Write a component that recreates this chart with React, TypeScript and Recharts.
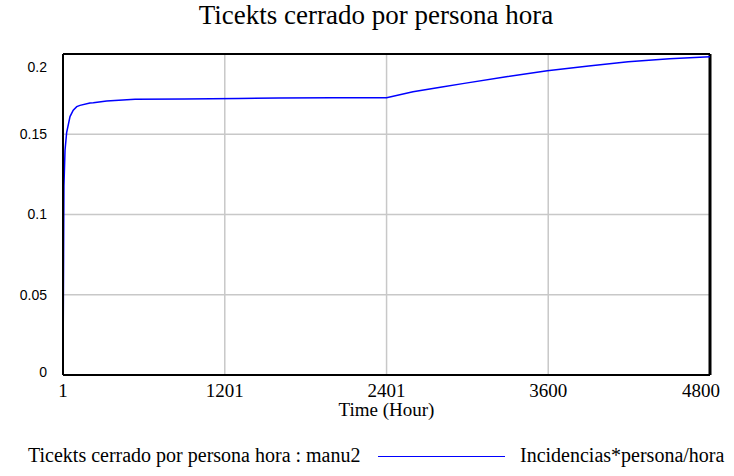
import {
    LineChart,
    Line,
    XAxis,
    YAxis,
    CartesianGrid,
    ReferenceLine,
    Legend,
} from "recharts";

const TITLE = "Ticekts cerrado por persona hora";
const SERIES_NAME = "Ticekts cerrado por persona hora : manu2";
const UNITS = "Incidencias*persona/hora";

const TIME = [
    1, 8, 16, 28, 53, 77, 103, 127, 201, 226, 325, 535, 900, 1300, 1600, 2000,
    2401, 2597, 2800, 2977, 3300, 3593, 3900, 4193, 4500, 4800,
];
const VALUES = [
    0, 0.118, 0.14, 0.151, 0.161, 0.165, 0.1672, 0.168, 0.1695, 0.1697, 0.1707,
    0.1718, 0.172, 0.1722, 0.1726, 0.1727, 0.1728, 0.1765, 0.1793, 0.1817, 0.186,
    0.1896, 0.1925, 0.1952, 0.197, 0.1983,
];

const X_TICKS = [1, 1201, 2401, 3600, 4800];
const Y_TICKS = [0, 0.05, 0.1, 0.15, 0.2];

const data = TIME.map((t, i) => ({ t, v: VALUES[i] }));

const SERIF = "Liberation Serif";
const SANS = "Liberation Sans";

const XTick = (props: any) => {
    const { x, y, payload } = props;
    const last = payload.value === 4800;
    return (
        <text
            x={last ? x + 10 : x}
            y={y}
            dy="0.71em"
            textAnchor={last ? "end" : "middle"}
            fontFamily={SERIF}
            fontSize={19}
            fill="#000"
        >
            {payload.value}
        </text>
    );
};

const YTick = (props: any) => {
    const { x, y, payload } = props;
    let shift = 0;
    if (payload.value === 0.2) shift = 13;
    if (payload.value === 0) shift = -3;
    return (
        <text
            x={x}
            y={y + shift}
            dy="0.355em"
            textAnchor="end"
            fontFamily={SANS}
            fontSize={14}
            fill="#000"
        >
            {payload.value}
        </text>
    );
};

const LegendContent = () => (
    <div
        style={{
            position: "relative",
            height: 24,
            fontFamily: SERIF,
            fontSize: 20,
            color: "#000",
        }}
    >
        <span style={{ position: "absolute", left: 28, top: 0, whiteSpace: "nowrap" }}>
            {SERIES_NAME}
        </span>
        <span
            style={{
                position: "absolute",
                left: 378,
                top: 12,
                width: 127,
                height: 0,
                borderTop: "1.5px solid #0000ff",
            }}
        />
        <span style={{ position: "absolute", left: 520, top: 0, whiteSpace: "nowrap" }}>
            {UNITS}
        </span>
    </div>
);

export default function App() {
    return (
        <div
            style={{
                position: "absolute",
                left: 0,
                top: 0,
                width: 734,
                height: 476,
                background: "#fff",
            }}
        >
            <div
                style={{
                    position: "absolute",
                    left: 0,
                    width: 752,
                    top: 0,
                    textAlign: "center",
                    fontFamily: SERIF,
                    fontSize: 27,
                    color: "#000",
                    whiteSpace: "nowrap",
                }}
            >
                {TITLE}
            </div>
            <LineChart
                width={734}
                height={476}
                data={data}
                margin={{ top: 54, right: 24, left: 0, bottom: 8 }}
            >
                <CartesianGrid stroke="#c8c8c8" strokeWidth={1.5} />
                <XAxis
                    dataKey="t"
                    type="number"
                    domain={[1, 4800]}
                    ticks={X_TICKS}
                    allowDataOverflow
                    height={69}
                    tickSize={0}
                    tickMargin={9}
                    tick={<XTick />}
                    axisLine={{ stroke: "#000", strokeWidth: 2 }}
                    label={{
                        value: "Time (Hour)",
                        position: "insideTop",
                        offset: 28,
                        fontFamily: SERIF,
                        fontSize: 19,
                        fill: "#000",
                    }}
                />
                <YAxis
                    type="number"
                    domain={[0, 0.2]}
                    ticks={Y_TICKS}
                    allowDataOverflow
                    width={63}
                    tickSize={0}
                    tickMargin={16}
                    tick={<YTick />}
                    axisLine={{ stroke: "#000", strokeWidth: 2 }}
                />
                <ReferenceLine y={0.2} stroke="#000" strokeWidth={2} />
                <ReferenceLine x={4800} stroke="#000" strokeWidth={3} />
                <Legend verticalAlign="bottom" content={<LegendContent />} />
                <Line
                    dataKey="v"
                    type="linear"
                    stroke="#0000ff"
                    strokeWidth={1.5}
                    dot={false}
                    isAnimationActive={false}
                />
            </LineChart>
        </div>
    );
}
